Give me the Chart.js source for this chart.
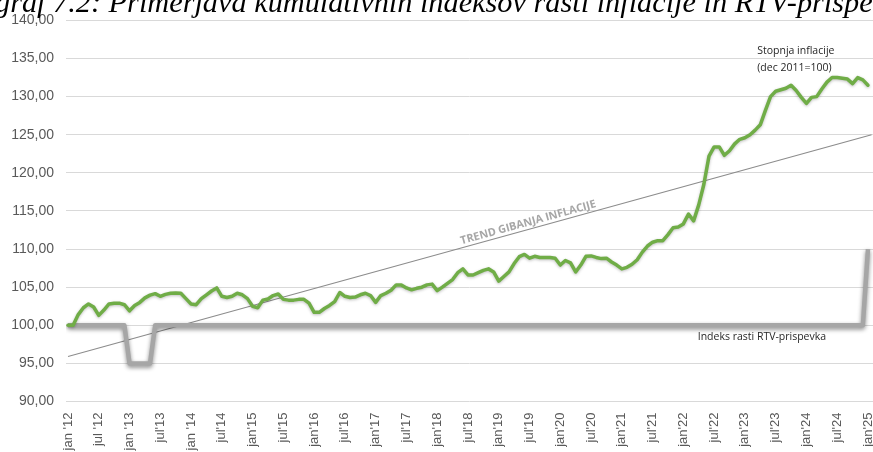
<!DOCTYPE html>
<html>
<head>
<meta charset="utf-8">
<script src="https://cdn.jsdelivr.net/npm/chart.js@4.4.1/dist/chart.umd.min.js"></script>
<style>
html,body{margin:0;padding:0;background:#fff;}
#wrap{position:relative;width:873px;height:452px;overflow:hidden;background:#fff;}
#title{position:absolute;left:-5px;top:-13px;white-space:nowrap;font-family:"Liberation Serif","Times New Roman",serif;font-style:italic;font-size:30.3px;line-height:30px;color:#000;}
canvas{position:absolute;left:0;top:0;}
</style>
</head>
<body>
<div id="wrap">
<canvas id="c" width="873" height="452"></canvas>
<div id="title">graf 7.2: Primerjava kumulativnih indeksov rasti inflacije in RTV-prispevka</div>
</div>
<script>
// ---- data (monthly, jan 2012 .. jan 2025) ----
const tickLabels = ["jan '12","jul '12","jan '13","jul'13","jan '14","jul'14","jan'15","jul'15","jan'16","jul'16","jan'17","jul'17","jan'18","jul'18","jan'19","jul'19","jan'20","jul'20","jan'21","jul'21","jan'22","jul'22","jan'23","jul'23","jan'24","jul'24","jan'25"];

const inflation = [
  100.0, 100.0, 101.4, 102.3, 102.8, 102.4, 101.3, 102.0, 102.8, 102.9, 102.9, 102.7,   // 2012
  101.9, 102.6, 103.0, 103.6, 103.95, 104.15, 103.8, 104.05, 104.2, 104.25, 104.2, 103.5, // 2013
  102.8, 102.7, 103.5, 104.0, 104.5, 104.9, 103.8, 103.65, 103.8, 104.2, 104.0, 103.5,  // 2014
  102.5, 102.3, 103.3, 103.45, 103.9, 104.1, 103.4, 103.3, 103.3, 103.4, 103.4, 102.9,  // 2015
  101.7, 101.7, 102.2, 102.6, 103.1, 104.3, 103.8, 103.65, 103.7, 104.0, 104.2, 103.9,  // 2016
  103.0, 103.9, 104.2, 104.6, 105.3, 105.3, 104.9, 104.65, 104.85, 105.0, 105.3, 105.4, // 2017
  104.55, 105.0, 105.5, 106.0, 106.9, 107.4, 106.6, 106.6, 106.9, 107.2, 107.4, 107.0,  // 2018
  105.8, 106.4, 107.0, 108.1, 109.0, 109.3, 108.8, 109.05, 108.9, 108.9, 108.9, 108.8,  // 2019
  107.9, 108.5, 108.2, 107.0, 107.9, 109.05, 109.1, 108.9, 108.75, 108.8, 108.3, 107.9, // 2020
  107.4, 107.6, 108.0, 108.6, 109.6, 110.4, 110.9, 111.1, 111.1, 111.9, 112.8, 112.9,   // 2021
  113.3, 114.6, 113.7, 115.8, 118.5, 122.2, 123.4, 123.4, 122.3, 122.9, 123.8, 124.4,   // 2022
  124.6, 125.0, 125.6, 126.3, 128.2, 130.0, 130.7, 130.9, 131.1, 131.5, 130.8, 129.9,   // 2023
  129.1, 129.9, 130.0, 131.0, 131.9, 132.5, 132.5, 132.4, 132.3, 131.7, 132.5, 132.2,   // 2024
  131.5                                                                                 // jan 2025
];

const rtv = [
  100, 100, 100, 100, 100, 100, 100, 100, 100, 100, 100, 100, // 2012
  95, 95, 95, 95, 95, 100, 100, 100, 100, 100, 100, 100,      // 2013
  100, 100, 100, 100, 100, 100, 100, 100, 100, 100, 100, 100, // 2014
  100, 100, 100, 100, 100, 100, 100, 100, 100, 100, 100, 100, // 2015
  100, 100, 100, 100, 100, 100, 100, 100, 100, 100, 100, 100, // 2016
  100, 100, 100, 100, 100, 100, 100, 100, 100, 100, 100, 100, // 2017
  100, 100, 100, 100, 100, 100, 100, 100, 100, 100, 100, 100, // 2018
  100, 100, 100, 100, 100, 100, 100, 100, 100, 100, 100, 100, // 2019
  100, 100, 100, 100, 100, 100, 100, 100, 100, 100, 100, 100, // 2020
  100, 100, 100, 100, 100, 100, 100, 100, 100, 100, 100, 100, // 2021
  100, 100, 100, 100, 100, 100, 100, 100, 100, 100, 100, 100, // 2022
  100, 100, 100, 100, 100, 100, 100, 100, 100, 100, 100, 100, // 2023
  100, 100, 100, 100, 100, 100, 100, 100, 100, 100, 100, 100, // 2024
  110                                                         // jan 2025
];

const trendX = [0, 156.7];
const trendY = [95.9, 125.0];

const yTicks = [90, 95, 100, 105, 110, 115, 120, 125, 130, 135, 140];

// ---- plugins ----
const shadowPlugin = {
  id: 'shadow',
  beforeDatasetDraw(chart, args) {
    const ds = chart.data.datasets[args.index];
    if (ds.shadowColor) {
      const c = chart.ctx;
      c.save();
      c.shadowColor = ds.shadowColor;
      c.shadowBlur = ds.shadowBlur;
      c.shadowOffsetX = 0;
      c.shadowOffsetY = ds.shadowOffsetY;
    }
  },
  afterDatasetDraw(chart, args) {
    const ds = chart.data.datasets[args.index];
    if (ds.shadowColor) chart.ctx.restore();
  }
};

const labelPlugin = {
  id: 'labels',
  afterDatasetsDraw(chart) {
    const c = chart.ctx, xs = chart.scales.x, ys = chart.scales.y;
    c.save();
    // trend label along the trend line
    const x0 = xs.getPixelForValue(trendX[0]), y0 = ys.getPixelForValue(trendY[0]);
    const x1 = xs.getPixelForValue(trendX[1]), y1 = ys.getPixelForValue(trendY[1]);
    const ang = Math.atan2(y1 - y0, x1 - x0);
    const f = 0.491;
    const px = x0 + (x1 - x0) * f, py = y0 + (y1 - y0) * f;
    c.translate(px, py);
    c.rotate(ang);
    c.font = "bold 11px 'Open Sans', 'Liberation Sans', sans-serif";
    c.fillStyle = '#a6a6a6';
    c.textAlign = 'left';
    c.textBaseline = 'alphabetic';
    const txt = 'TREND GIBANJA INFLACIJE';
    const w = c.measureText(txt).width;
    c.scale(140 / w, 1);
    c.fillText(txt, 0, -3.5);
    c.restore();

    c.save();
    c.font = "10.5px 'Open Sans', 'Liberation Sans', sans-serif";
    c.fillStyle = '#262626';
    c.textAlign = 'left';
    c.textBaseline = 'alphabetic';
    const ax = xs.getPixelForValue(134.4);
    c.fillText('Stopnja inflacije', ax, ys.getPixelForValue(135.54));
    c.fillText('(dec 2011=100)', ax, ys.getPixelForValue(133.4));
    c.textBaseline = 'middle';
    c.fillText('Indeks rasti RTV-prispevka', xs.getPixelForValue(122.8), ys.getPixelForValue(98.49));
    c.restore();
  }
};

Chart.defaults.font.family = "'Liberation Sans', Arial, sans-serif";

new Chart(document.getElementById('c'), {
  type: 'line',
  data: {
    datasets: [
      {
        label: 'Stopnja inflacije (dec 2011=100)',
        data: inflation.map((v, i) => ({ x: i, y: v })),
        borderColor: '#70ad47',
        borderWidth: 3.5,
        pointRadius: 0,
        tension: 0,
        borderJoinStyle: 'round',
        borderCapStyle: 'round',
        shadowColor: 'rgba(0,0,0,0.25)', shadowBlur: 3, shadowOffsetY: 1
      },
      {
        label: 'Indeks rasti RTV-prispevka',
        data: rtv.map((v, i) => ({ x: i, y: v })),
        borderColor: '#a6a6a6',
        borderWidth: 4.5,
        pointRadius: 0,
        tension: 0,
        borderJoinStyle: 'round',
        shadowColor: 'rgba(0,0,0,0.45)', shadowBlur: 4, shadowOffsetY: 2
      },
      {
        label: 'Trend gibanja inflacije',
        data: trendX.map((x, k) => ({ x: x, y: trendY[k] })),
        borderColor: '#8c8c8c',
        borderWidth: 1.1,
        pointRadius: 0
      }
    ]
  },
  options: {
    responsive: false,
    animation: false,
    devicePixelRatio: 1,
    layout: { padding: { top: 15, right: 0, left: 0, bottom: 0 } },
    plugins: { legend: { display: false }, tooltip: { enabled: false }, title: { display: false } },
    scales: {
      x: {
        type: 'linear',
        min: -0.39,
        max: 156.98,
        grid: { display: false },
        border: { display: false },
        afterBuildTicks: s => { s.ticks = tickLabels.map((l, k) => ({ value: k * 6 })); },
        afterFit: s => { s.height = 50.5; s.paddingLeft = 0; s.paddingRight = 0; },
        ticks: {
          autoSkip: false,
          maxRotation: 90,
          minRotation: 90,
          padding: 3,
          color: '#595959',
          font: { size: 13 },
          callback: (v, idx) => tickLabels[idx]
        }
      },
      y: {
        min: 90,
        max: 140,
        afterBuildTicks: s => { s.ticks = yTicks.map(v => ({ value: v })); },
        afterFit: s => { s.width = 66; },
        grid: { color: '#d9d9d9', lineWidth: 1, drawTicks: false },
        border: { display: false },
        ticks: {
          padding: 12,
          color: '#595959',
          font: { size: 14 },
          callback: v => v.toFixed(2).replace('.', ',')
        }
      }
    }
  },
  plugins: [shadowPlugin, labelPlugin]
});
</script>
</body>
</html>
